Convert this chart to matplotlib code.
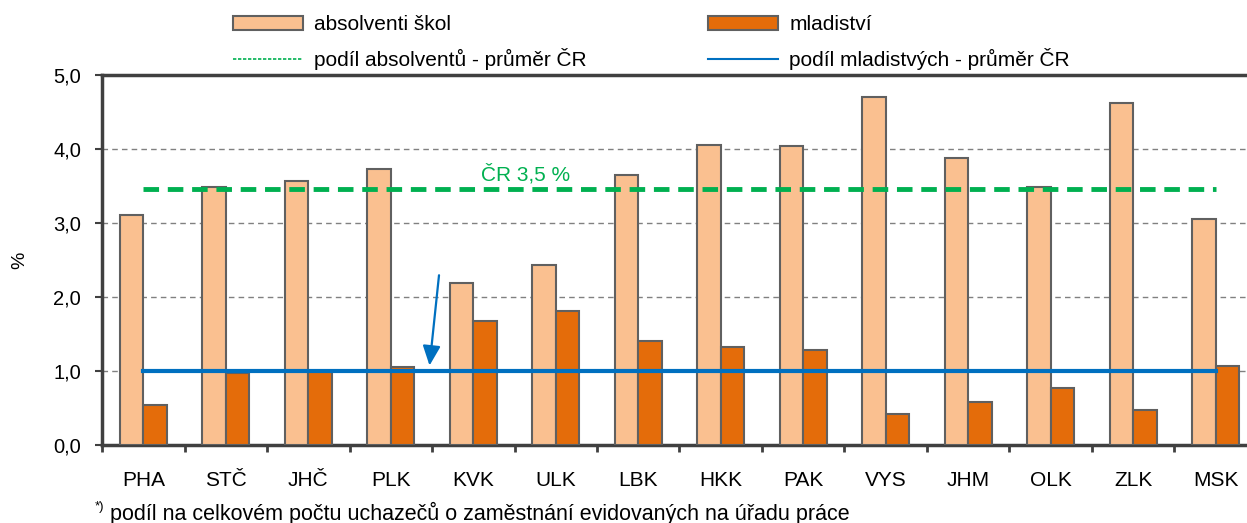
import numpy as np
import matplotlib.pyplot as plt
from matplotlib.patches import Patch
from matplotlib.lines import Line2D

plt.rcParams['font.family'] = ['Liberation Sans', 'DejaVu Sans']

''' DATA '''
kraje = ['PHA', 'STČ', 'JHČ', 'PLK', 'KVK', 'ULK', 'LBK',
         'HKK', 'PAK', 'VYS', 'JHM', 'OLK', 'ZLK', 'MSK']
absolventi = [3.10, 3.48, 3.57, 3.73, 2.19, 2.43, 3.65,
              4.05, 4.03, 4.70, 3.87, 3.48, 4.62, 3.05]
mladistvi = [0.54, 0.97, 1.00, 1.05, 1.67, 1.81, 1.40,
             1.32, 1.28, 0.42, 0.58, 0.77, 0.47, 1.07]
prumer_abs = 3.45
prumer_mlad = 1.0
y_ticks = [0, 1, 2, 3, 4, 5]

c_abs = '#FAC090'
c_mlad = '#E46C0A'
c_green = '#00B050'
c_blue = '#0070C0'
c_edge = '#606060'

fig = plt.figure(figsize=(12.47, 5.23), dpi=100)
ax = fig.add_axes([102/1247, 78.3/523, 1155/1247, 370/523])

x = np.arange(len(kraje))
w = 0.285
ax.bar(x - w/2, absolventi, w, color=c_abs, edgecolor=c_edge, linewidth=1.5, zorder=3)
ax.bar(x + w/2, mladistvi, w, color=c_mlad, edgecolor=c_edge, linewidth=1.5, zorder=3)

# prumery CR
ax.plot([x[0], x[-1]], [prumer_abs, prumer_abs], color=c_green, lw=3.5,
        dashes=(3.2, 1.8), zorder=4)
ax.plot([x[0], x[-1]], [prumer_mlad, prumer_mlad], color=c_blue, lw=3, zorder=4)
ax.text(4.63, prumer_abs + 0.2, 'ČR 3,5 %', color=c_green, fontsize=15,
        ha='center', va='center')
ax.annotate('', xy=(3.47, 1.07), xytext=(3.585, 2.29),
            arrowprops=dict(arrowstyle='-|>,head_length=0.6,head_width=0.27',
                            mutation_scale=20, shrinkA=0, shrinkB=0,
                            color=c_blue, lw=1.6), zorder=5)

ax.set_xlim(-0.5, len(kraje) - 0.5)
ax.set_ylim(0, 5)
ax.set_yticks(y_ticks)
ax.set_yticklabels([f'{v:.1f}'.replace('.', ',') for v in y_ticks], fontsize=14.5)
ax.set_xticks(np.arange(len(kraje) + 1) - 0.5)
ax.set_xticklabels([])
ax.set_xticks(x, minor=True)
ax.set_xticklabels(kraje, minor=True, fontsize=15)
ax.tick_params(axis='x', which='minor', length=0, pad=19)
ax.tick_params(axis='x', which='major', length=5, width=2, color='#404040')
ax.tick_params(axis='y', length=5, width=1.5, color='#404040', pad=10)

ax.yaxis.grid(True, color='#808080', linestyle=(0, (4, 3)), lw=1, zorder=0)
for s in ['left', 'bottom', 'top', 'right']:
    ax.spines[s].set_color('#404040')
    ax.spines[s].set_linewidth(2.5)

fig.text(20/1247, 1 - 260/523, '%', rotation=90, fontsize=14, ha='center', va='center')

# legenda
leg_kw = dict(loc='upper left', frameon=False, fontsize=15, handlelength=3.35,
              handleheight=0.65, handletextpad=0.55, labelspacing=0.66,
              borderpad=0, borderaxespad=0)
fig.legend(handles=[Patch(facecolor=c_abs, edgecolor=c_edge, lw=1.5),
                    Line2D([], [], color=c_green, lw=1.2, ls=(0, (2, 1)))],
           labels=['absolventi škol', 'podíl absolventů - průměr ČR'],
           bbox_to_anchor=(233/1247, 1 - 15/523), **leg_kw)
fig.legend(handles=[Patch(facecolor=c_mlad, edgecolor=c_edge, lw=1.5),
                    Line2D([], [], color=c_blue, lw=1.5)],
           labels=['mladiství', 'podíl mladistvých - průměr ČR'],
           bbox_to_anchor=(708/1247, 1 - 15/523), **leg_kw)

# poznamka
fig.text(95/1247, 1 - 507/523, '*)', fontsize=9.5, ha='left', va='center')
fig.text(110/1247, 1 - 513/523,
         'podíl na celkovém počtu uchazečů o zaměstnání evidovaných na úřadu práce',
         fontsize=15.5, ha='left', va='center')

fig.savefig('out.png', dpi=100)
